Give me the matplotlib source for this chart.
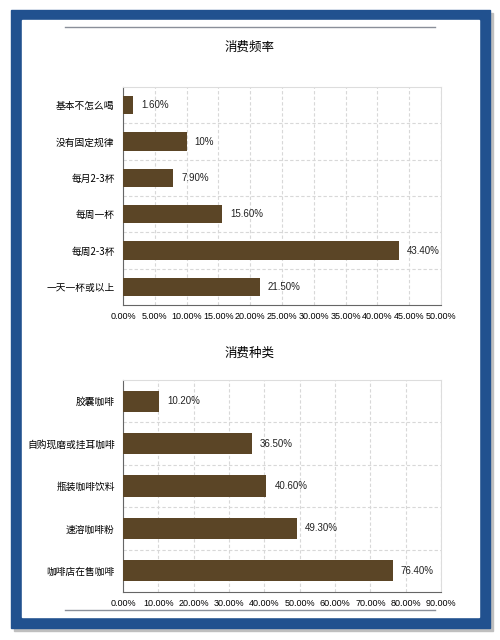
import matplotlib
matplotlib.use("Agg")
import matplotlib.pyplot as plt
from matplotlib.patches import Rectangle
from matplotlib.ticker import FuncFormatter, MultipleLocator

plt.rcParams['font.family'] = ['Noto Sans CJK SC', 'DejaVu Sans']

## data
freq_title = "消费频率"
freq_cats = ["基本不怎么喝", "没有固定规律", "每月2-3杯", "每周一杯", "每周2-3杯", "一天一杯或以上"]
freq_vals = [1.6, 10.0, 7.9, 15.6, 43.4, 21.5]
freq_labels = ["1.60%", "10%", "7.90%", "15.60%", "43.40%", "21.50%"]

kind_title = "消费种类"
kind_cats = ["胶囊咖啡", "自购现磨或挂耳咖啡", "瓶装咖啡饮料", "速溶咖啡粉", "咖啡店在售咖啡"]
kind_vals = [10.2, 36.5, 40.6, 49.3, 76.4]
kind_labels = ["10.20%", "36.50%", "40.60%", "49.30%", "76.40%"]

bar_color = "#5b4526"
frame_blue = "#21518f"
num_font = ["Liberation Sans", "DejaVu Sans"]


def draw_bars(ax, cats, vals, labels, xmax, step):
    n = len(cats)
    pos = list(range(n))
    ax.barh(pos, vals, height=0.5, color=bar_color, zorder=3)
    for p, v, t in zip(pos, vals, labels):
        ax.text(v + xmax * 0.025, p, t, va="center", ha="left", fontsize=7,
                color="#222222", family=num_font)
    ax.set_yticks(pos)
    ax.set_yticklabels(cats, fontsize=7)
    ax.set_ylim(n - 0.5, -0.5)
    ax.set_xlim(0, xmax)
    ax.xaxis.set_major_locator(MultipleLocator(step))
    ax.xaxis.set_major_formatter(FuncFormatter(lambda x, _: "%.2f%%" % x))
    for lab in ax.get_xticklabels():
        lab.set_family(num_font)
    ax.set_yticks([i + 0.5 for i in range(n - 1)], minor=True)
    ax.tick_params(axis="x", labelsize=6.5, length=0, pad=5)
    ax.tick_params(axis="y", length=0, pad=6, which="both")
    ax.grid(axis="x", which="major", color="#d8d8d8", linestyle=(0, (3, 2)), linewidth=0.8, zorder=0)
    ax.grid(axis="y", which="minor", color="#d8d8d8", linestyle=(0, (3, 2)), linewidth=0.8, zorder=0)
    for side in ["top", "right"]:
        ax.spines[side].set_color("#dddddd")
    for side in ["left", "bottom"]:
        ax.spines[side].set_color("#666666")


fig = plt.figure(figsize=(5, 6.4), dpi=100)
fig.patch.set_facecolor("white")

# frame with shadow
fig.patches.append(Rectangle((14 / 500, 1 - 631 / 640), 479 / 500, 618 / 640,
                             transform=fig.transFigure, color="#bfbfbf", zorder=-3))
fig.patches.append(Rectangle((11 / 500, 1 - 628 / 640), 479 / 500, 618 / 640,
                             transform=fig.transFigure, color=frame_blue, zorder=-2))
fig.patches.append(Rectangle((22 / 500, 1 - 617 / 640), 457 / 500, 597 / 640,
                             transform=fig.transFigure, color="white", zorder=-1))
fig.add_artist(plt.Line2D([65 / 500, 435 / 500], [1 - 27 / 640, 1 - 27 / 640],
                          transform=fig.transFigure, color="#8a8f99", linewidth=1))
fig.add_artist(plt.Line2D([65 / 500, 435 / 500], [1 - 610 / 640, 1 - 610 / 640],
                          transform=fig.transFigure, color="#8a8f99", linewidth=1))

ax1 = fig.add_axes([123 / 500, 1 - 305 / 640, 318 / 500, 218 / 640])
draw_bars(ax1, freq_cats, freq_vals, freq_labels, 50, 5)
fig.text(0.5, 1 - 47 / 640, freq_title, ha="center", va="center", fontsize=9)

ax2 = fig.add_axes([123 / 500, 1 - 592 / 640, 318 / 500, 212 / 640])
draw_bars(ax2, kind_cats, kind_vals, kind_labels, 90, 10)
fig.text(0.5, 1 - 353 / 640, kind_title, ha="center", va="center", fontsize=9)

fig.savefig("out.png", dpi=100)
